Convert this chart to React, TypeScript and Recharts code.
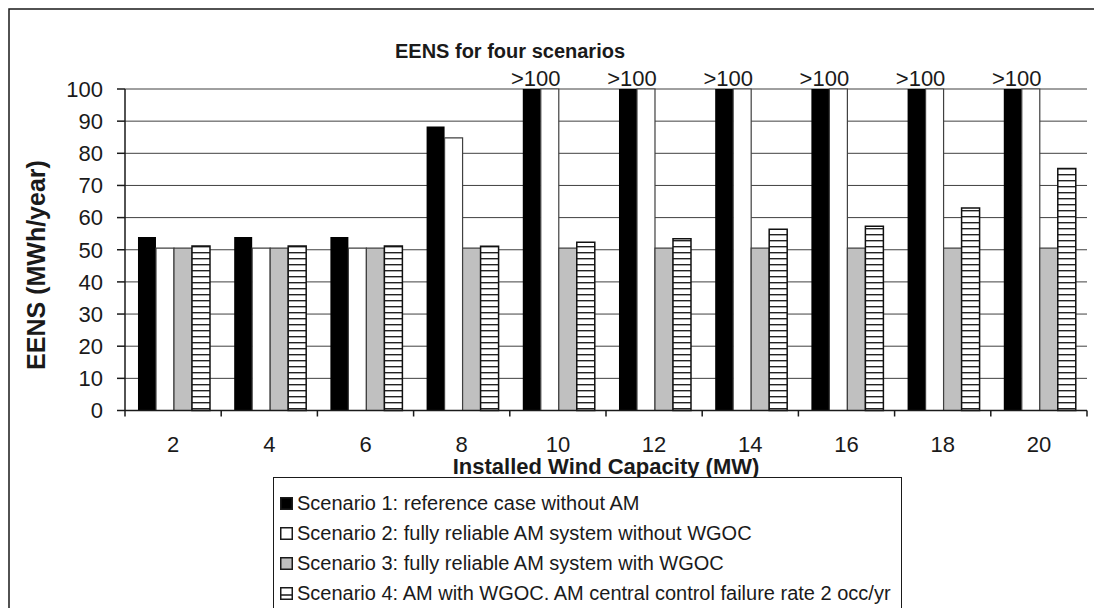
import React from 'react';
import { BarChart, Bar, XAxis, YAxis, CartesianGrid, Legend, LabelList } from 'recharts';

const FONT = '"Liberation Sans", Arial, Helvetica, sans-serif';
const INK = '#1a1a1a';
const GRID = '#404040';

// Values above the axis maximum are shown as full-height bars with a note.
const AXIS_MAX = 100;
const OFF_SCALE = '>100';

const capacities = ['2', '4', '6', '8', '10', '12', '14', '16', '18', '20'];
const scenario1: (number | string)[] = [54, 54, 54, 88.3, OFF_SCALE, OFF_SCALE, OFF_SCALE, OFF_SCALE, OFF_SCALE, OFF_SCALE];
const scenario2: (number | string)[] = [50.5, 50.5, 50.5, 84.8, OFF_SCALE, OFF_SCALE, OFF_SCALE, OFF_SCALE, OFF_SCALE, OFF_SCALE];
const scenario3 = [50.5, 50.5, 50.5, 50.5, 50.5, 50.5, 50.5, 50.5, 50.5, 50.5];
const scenario4 = [51.2, 51.2, 51.2, 51.1, 52.3, 53.4, 56.4, 57.3, 63.0, 75.3];
const yTicks = [0, 10, 20, 30, 40, 50, 60, 70, 80, 90, 100];

const seriesNames = [
  'Scenario 1: reference case without AM',
  'Scenario 2: fully reliable AM system without WGOC',
  'Scenario 3: fully reliable AM system with WGOC',
  'Scenario 4: AM with WGOC. AM central control failure rate 2 occ/yr',
];

const toHeight = (v: number | string) => (typeof v === 'number' ? v : AXIS_MAX);
const toNote = (v: number | string) => (typeof v === 'number' ? '' : v);

const rows = capacities.map((cap, i) => ({
  cap,
  s1: toHeight(scenario1[i]),
  s1Note: toNote(scenario1[i]),
  s2: toHeight(scenario2[i]),
  s3: scenario3[i],
  s4: scenario4[i],
}));

const swatches = [
  { fill: '#000000', hatch: false },
  { fill: '#ffffff', hatch: false },
  { fill: '#c0c0c0', hatch: false },
  { fill: '#ffffff', hatch: true },
];

const X_TICK_SIZE = 6;
const X_TICK_MARGIN = 20;

// Category label, plus tick marks on the group boundaries rather than at the centres.
function CapacityTick(props: any) {
  const { x, y, payload, index, visibleTicksCount } = props;
  const half = payload && payload.offset ? payload.offset : 0;
  const axisY = y - X_TICK_SIZE - X_TICK_MARGIN;
  const isLast = index === (visibleTicksCount ?? capacities.length) - 1;
  return (
    <g>
      <line x1={x - half} x2={x - half} y1={axisY} y2={axisY + X_TICK_SIZE} stroke={INK} strokeWidth={1.5} />
      {isLast && (
        <line x1={x + half} x2={x + half} y1={axisY} y2={axisY + X_TICK_SIZE} stroke={INK} strokeWidth={1.5} />
      )}
      <text x={x} y={y} dy="0.71em" textAnchor="middle" fontSize={22} fontFamily={FONT} fill={INK}>
        {payload.value}
      </text>
    </g>
  );
}

function LegendBox() {
  return (
    <div
      style={{
        display: 'inline-block',
        border: `1.5px solid ${INK}`,
        background: '#fff',
        padding: '10px 10px 40px 6px',
        fontFamily: FONT,
        fontSize: 20,
        color: INK,
        whiteSpace: 'nowrap',
      }}
    >
      {seriesNames.map((name, i) => (
        <div key={name} style={{ display: 'flex', alignItems: 'center', height: 30 }}>
          <svg width={13} height={13} style={{ marginRight: 4, flex: 'none' }}>
            <rect x={0.75} y={0.75} width={11.5} height={11.5} fill={swatches[i].fill} stroke={INK} strokeWidth={1.5} />
            {swatches[i].hatch && <line x1={1} x2={12} y1={8} y2={8} stroke={INK} strokeWidth={1.5} />}
          </svg>
          <span>{name}</span>
        </div>
      ))}
    </div>
  );
}

function OffScaleNote(props: any) {
  const { x, y, width, value } = props;
  if (!value) return null;
  return (
    <text x={x + width / 2 + 4} y={y - 3} textAnchor="middle" fontSize={22} fontFamily={FONT} fill={INK}>
      {value}
    </text>
  );
}

export default function App() {
  return (
    <div style={{ position: 'absolute', left: 0, top: 0, width: 1094, height: 608, overflow: 'hidden', background: '#fff' }}>
      <BarChart
        width={1094}
        height={608}
        data={rows}
        margin={{ top: 89, right: 7, bottom: 0, left: 0 }}
        barGap={0}
        barCategoryGap="13.5%"
      >
        <defs>
          <pattern id="hlines" width={8} height={6} patternUnits="userSpaceOnUse">
            <rect width={8} height={6} fill="#ffffff" />
            <rect y={0} width={8} height={1.4} fill="#222222" />
          </pattern>
        </defs>

        <rect x={9} y={9} width={1300} height={900} fill="none" stroke={INK} strokeWidth={1.5} />

        <text x={510} y={58} textAnchor="middle" fontSize={20} fontWeight="bold" fontFamily={FONT} fill={INK}>
          EENS for four scenarios
        </text>
        <text
          x={36}
          y={265}
          transform="rotate(-90 36 265)"
          textAnchor="middle"
          dominantBaseline="central"
          fontSize={25}
          fontWeight="bold"
          fontFamily={FONT}
          fill={INK}
        >
          EENS (MWh/year)
        </text>
        <text x={606} y={474} textAnchor="middle" fontSize={22} fontWeight="bold" fontFamily={FONT} fill={INK}>
          Installed Wind Capacity (MW)
        </text>

        <CartesianGrid vertical={false} stroke={GRID} strokeWidth={1} />

        <XAxis
          dataKey="cap"
          interval={0}
          tickLine={false}
          axisLine={{ stroke: INK, strokeWidth: 1.5 }}
          tickSize={X_TICK_SIZE}
          tickMargin={X_TICK_MARGIN}
          height={197.5}
          tick={<CapacityTick />}
        />
        <YAxis
          domain={[0, AXIS_MAX]}
          ticks={yTicks}
          interval={0}
          width={125}
          tickSize={8}
          tickMargin={14}
          axisLine={{ stroke: INK, strokeWidth: 1.5 }}
          tickLine={{ stroke: INK, strokeWidth: 1.5 }}
          tick={{ fontSize: 22, fill: INK, fontFamily: FONT }}
        />
        <YAxis
          yAxisId="frame"
          orientation="right"
          domain={[0, AXIS_MAX]}
          width={0}
          tick={false}
          tickLine={false}
          axisLine={{ stroke: INK, strokeWidth: 1.5 }}
        />

        <Bar dataKey="s1" name={seriesNames[0]} fill="#000000" isAnimationActive={false}>
          <LabelList dataKey="s1Note" content={OffScaleNote} />
        </Bar>
        <Bar dataKey="s2" name={seriesNames[1]} fill="#ffffff" stroke={GRID} strokeWidth={1.2} isAnimationActive={false} />
        <Bar dataKey="s3" name={seriesNames[2]} fill="#c0c0c0" stroke={GRID} strokeWidth={1.2} isAnimationActive={false} />
        <Bar dataKey="s4" name={seriesNames[3]} fill="url(#hlines)" stroke="#111111" strokeWidth={1.5} isAnimationActive={false} />

        <Legend
          layout="vertical"
          align="center"
          verticalAlign="middle"
          content={LegendBox}
          wrapperStyle={{ left: 273, top: 477, width: 'auto', height: 'auto' }}
        />
      </BarChart>
    </div>
  );
}
